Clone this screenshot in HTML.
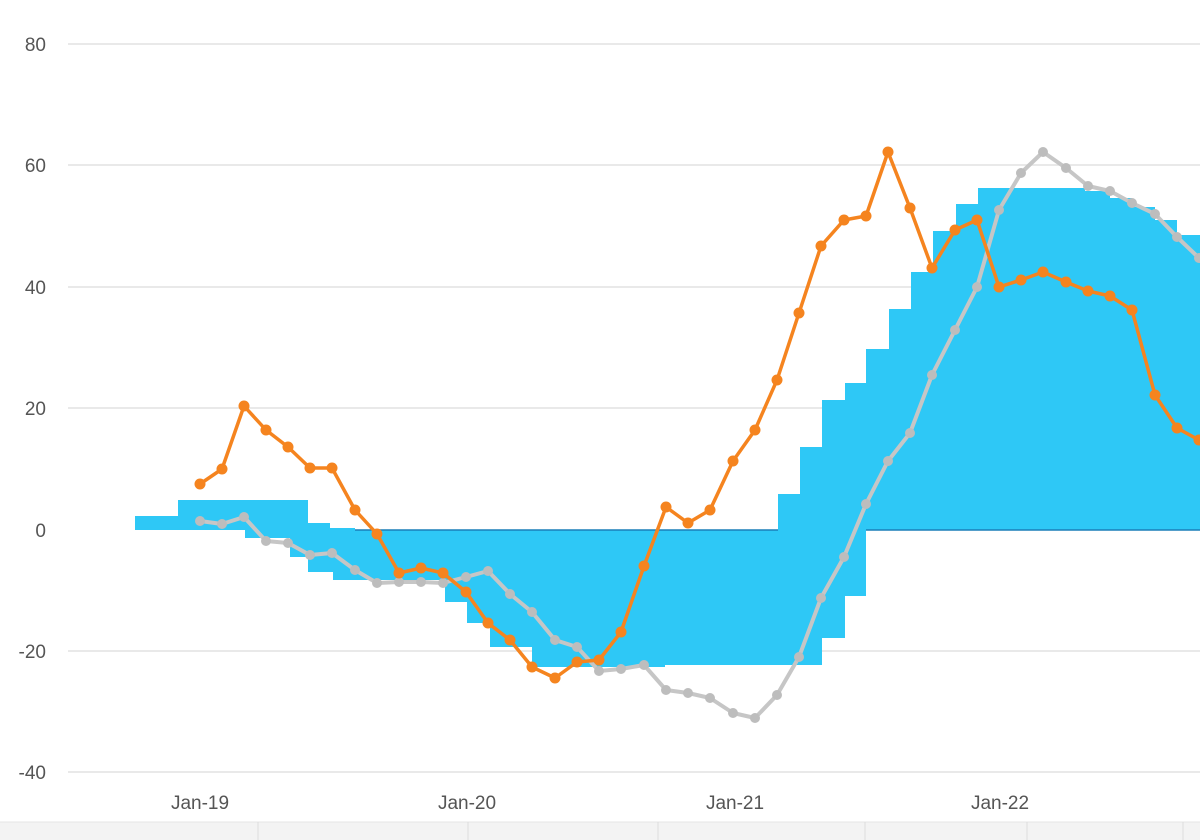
<!DOCTYPE html>
<html><head><meta charset="utf-8"><style>
html,body{margin:0;padding:0;background:#fff;}
svg{display:block}
text{font-family:"Liberation Sans",sans-serif;fill:#555;font-size:19px}
</style></head><body>
<svg width="1200" height="840" viewBox="0 0 1200 840">
<g stroke="#e2e2e2" stroke-width="1.5">
<line x1="68" y1="44" x2="1200" y2="44"/>
<line x1="68" y1="165" x2="1200" y2="165"/>
<line x1="68" y1="287" x2="1200" y2="287"/>
<line x1="68" y1="408" x2="1200" y2="408"/>
<line x1="68" y1="651" x2="1200" y2="651"/>
<line x1="68" y1="772" x2="1200" y2="772"/>
</g>
<g text-anchor="end">
<text x="46" y="51">80</text>
<text x="46" y="172">60</text>
<text x="46" y="294">40</text>
<text x="46" y="415">20</text>
<text x="46" y="537">0</text>
<text x="46" y="658">-20</text>
<text x="46" y="779">-40</text>
</g>
<g text-anchor="middle">
<text x="200" y="809">Jan-19</text>
<text x="467" y="809">Jan-20</text>
<text x="735" y="809">Jan-21</text>
<text x="1000" y="809">Jan-22</text>
</g>
<rect x="0" y="822" width="1200" height="18" fill="#f3f3f3"/>
<line x1="0" y1="822" x2="1200" y2="822" stroke="#e4e4e4"/>
<g stroke="#dcdcdc"><line x1="258" y1="822" x2="258" y2="840"/><line x1="468" y1="822" x2="468" y2="840"/><line x1="658" y1="822" x2="658" y2="840"/><line x1="865" y1="822" x2="865" y2="840"/><line x1="1027" y1="822" x2="1027" y2="840"/><line x1="1183" y1="822" x2="1183" y2="840"/></g>
<!-- blue positive -->
<path fill="#2ec8f6" d="M135,530 L135,516 L178,516 L178,500 L308,500 L308,523 L330,523 L330,528 L355,528 L355,530 Z"/>
<path fill="#2ec8f6" d="M778,530 L778,494 L800,494 L800,447 L822,447 L822,400 L845,400 L845,383 L866,383 L866,349 L889,349 L889,309 L911,309 L911,272 L933,272 L933,231 L956,231 L956,204 L978,204 L978,188 L1085,188 L1085,191 L1110,191 L1110,198 L1132,198 L1132,207 L1155,207 L1155,220 L1177,220 L1177,235 L1200,235 L1200,530 Z"/>
<!-- blue negative -->
<path fill="#2ec8f6" d="M245,530 L245,538 L290,538 L290,557 L308,557 L308,572 L333,572 L333,580 L445,580 L445,602 L467,602 L467,623 L490,623 L490,647 L532,647 L532,667 L665,667 L665,665 L822,665 L822,638 L845,638 L845,596 L866,596 L866,530 Z"/>
<line x1="355" y1="530" x2="778" y2="530" stroke="#1a7fb8" stroke-width="1.5"/>
<line x1="866" y1="530" x2="1200" y2="530" stroke="#1a7fb8" stroke-width="1.5"/>
<!-- gray -->
<polyline fill="none" stroke="#c6c6c6" stroke-width="4" stroke-linejoin="round" points="200,521 222,524 244,517 266,541 288,543 310,555 332,553 355,570 377,583 399,582 421,582 443,583 466,577 488,571 510,594 532,612 555,640 577,647 599,671 621,669 644,665 666,690 688,693 710,698 733,713 755,718 777,695 799,657 821,598 844,557 866,504 888,461 910,433 932,375 955,330 977,287 999,210 1021,173 1043,152 1066,168 1088,186 1110,191 1132,203 1155,214 1177,237 1199,258"/>
<g fill="#bdbdbd" id="gm"></g>
<!-- orange -->
<polyline fill="none" stroke="#f5841f" stroke-width="3.5" stroke-linejoin="round" points="200,484 222,469 244,406 266,430 288,447 310,468 332,468 355,510 377,534 399,573 421,568 443,573 466,592 488,623 510,640 532,667 555,678 577,662 599,660 621,632 644,566 666,507 688,523 710,510 733,461 755,430 777,380 799,313 821,246 844,220 866,216 888,152 910,208 932,268 955,230 977,220 999,287 1021,280 1043,272 1066,282 1088,291 1110,296 1132,310 1155,395 1177,428 1199,440"/>
<g fill="#f5841f" id="om"></g>
</svg>
<script>
function dots(id,pts,r){var g=document.getElementById(id);pts.trim().split(/\s+/).forEach(function(p){var a=p.split(',');var c=document.createElementNS('http://www.w3.org/2000/svg','circle');c.setAttribute('cx',a[0]);c.setAttribute('cy',a[1]);c.setAttribute('r',r);g.appendChild(c);});}
dots('gm',document.querySelectorAll('polyline')[0].getAttribute('points'),5);
dots('om',document.querySelectorAll('polyline')[1].getAttribute('points'),5.5);
</script>
</body></html>
